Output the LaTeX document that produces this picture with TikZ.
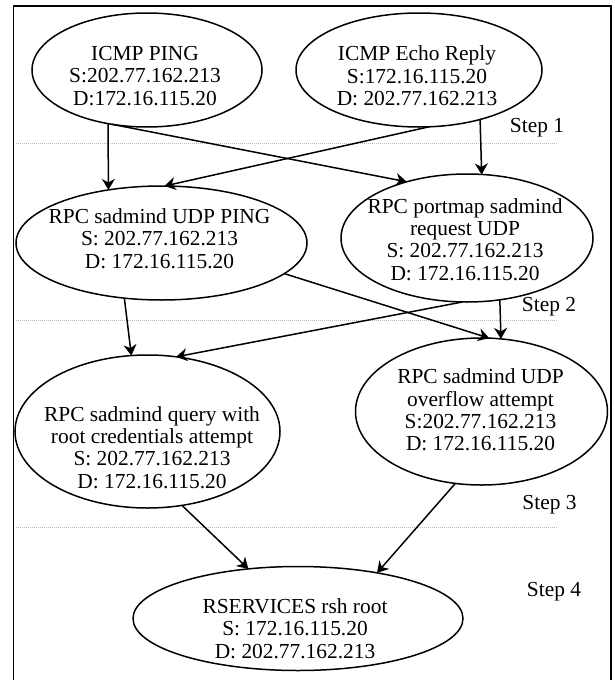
\documentclass[tikz,border=0pt]{standalone}
\usepackage{fontspec}
\setmainfont{Liberation Serif}
\usetikzlibrary{arrows.meta,shapes.geometric}

\tikzset{
  oval/.style={draw, ellipse, line width=1.5pt, inner sep=0pt, outer sep=0pt},
  lbl/.style={align=center, inner sep=0pt, font=\fontsize{21.4}{22.3}\selectfont},
  steplbl/.style={inner sep=0pt, font=\fontsize{21.4}{22.3}\selectfont},
  flow/.style={line width=1.5pt, -{Stealth[length=11pt, width=13pt, inset=3.5pt]}},
  stepline/.style={gray!55, line width=1pt, dash pattern=on 1pt off 1pt}
}

\begin{document}
\begin{tikzpicture}[x=1pt, y=-1pt]
  \useasboundingbox (0,0) rectangle (614,680);

  % outer frame (open at the bottom)
  \draw[line width=1.8pt] (13.5,682) -- (13.5,6) -- (611,6) -- (611,682);

  % step separators
  \draw[stepline] (16,143) -- (558,143);
  \draw[stepline] (16,320) -- (558,320);
  \draw[stepline] (16,527) -- (558,527);

  % alert ellipses
  \node[oval, minimum width=230pt, minimum height=114pt] (e1) at (147,70) {};
  \node[oval, minimum width=246pt, minimum height=114pt] (e2) at (419,70) {};
  \node[oval, minimum width=291pt, minimum height=114pt] (e3) at (161.5,243) {};
  \node[oval, minimum width=252pt, minimum height=128pt] (e4) at (467,238) {};
  \node[oval, minimum width=265pt, minimum height=153pt] (e5) at (147.5,431.5) {};
  \node[oval, minimum width=252pt, minimum height=147pt] (e6) at (481.5,411.5) {};
  \node[oval, minimum width=330pt, minimum height=104pt] (e7) at (298,618.5) {};

  % alert texts
  \node[lbl] (t1) at (145,76) {ICMP PING\\S:202.77.162.213\\D:172.16.115.20};
  \node[lbl] (t2) at (417,76) {ICMP Echo Reply\\S:172.16.115.20\\D: 202.77.162.213};
  \node[lbl] (t3) at (159.5,238.5) {RPC sadmind UDP PING\\S: 202.77.162.213\\D: 172.16.115.20};
  \node[lbl] (t4) at (465,239.5) {RPC portmap sadmind\\request UDP\\S: 202.77.162.213\\D: 172.16.115.20};
  \node[lbl] (t5) at (152,447.5) {RPC sadmind query with\\root credentials attempt\\S: 202.77.162.213\\D: 172.16.115.20};
  \node[lbl] (t6) at (480.5,410) {RPC sadmind UDP\\overflow attempt\\S:202.77.162.213\\D: 172.16.115.20};
  \node[lbl] (t7) at (295,628.5) {RSERVICES rsh root\\S: 172.16.115.20\\D: 202.77.162.213};

  % step labels
  \node[steplbl] (s1) at (537,128) {Step 1};
  \node[steplbl] (s2) at (549,307) {Step 2};
  \node[steplbl] (s3) at (549.5,505) {Step 3};
  \node[steplbl] (s4) at (554,592) {Step 4};

  % correlation arrows
  \draw[flow] (e1.234) -- (e3.135.3);
  \draw[flow] (e1.237.5) -- (e4.137);
  \draw[flow] (e2.280) -- (e3.87);
  \draw[flow] (e2.321.6) -- (e4.77.6);
  \draw[flow] (e3.236.5) -- (e5.102.3);
  \draw[flow] (e3.346.7) -- (e6.84.1);
  \draw[flow] (e4.266.4) -- (e5.69.1);
  \draw[flow] (e4.298.9) -- (e6.75);
  \draw[flow] (e5.295.7) -- (e7.135.9);
  \draw[flow] (e6.250.5) -- (e7.30.9);
\end{tikzpicture}
\end{document}
